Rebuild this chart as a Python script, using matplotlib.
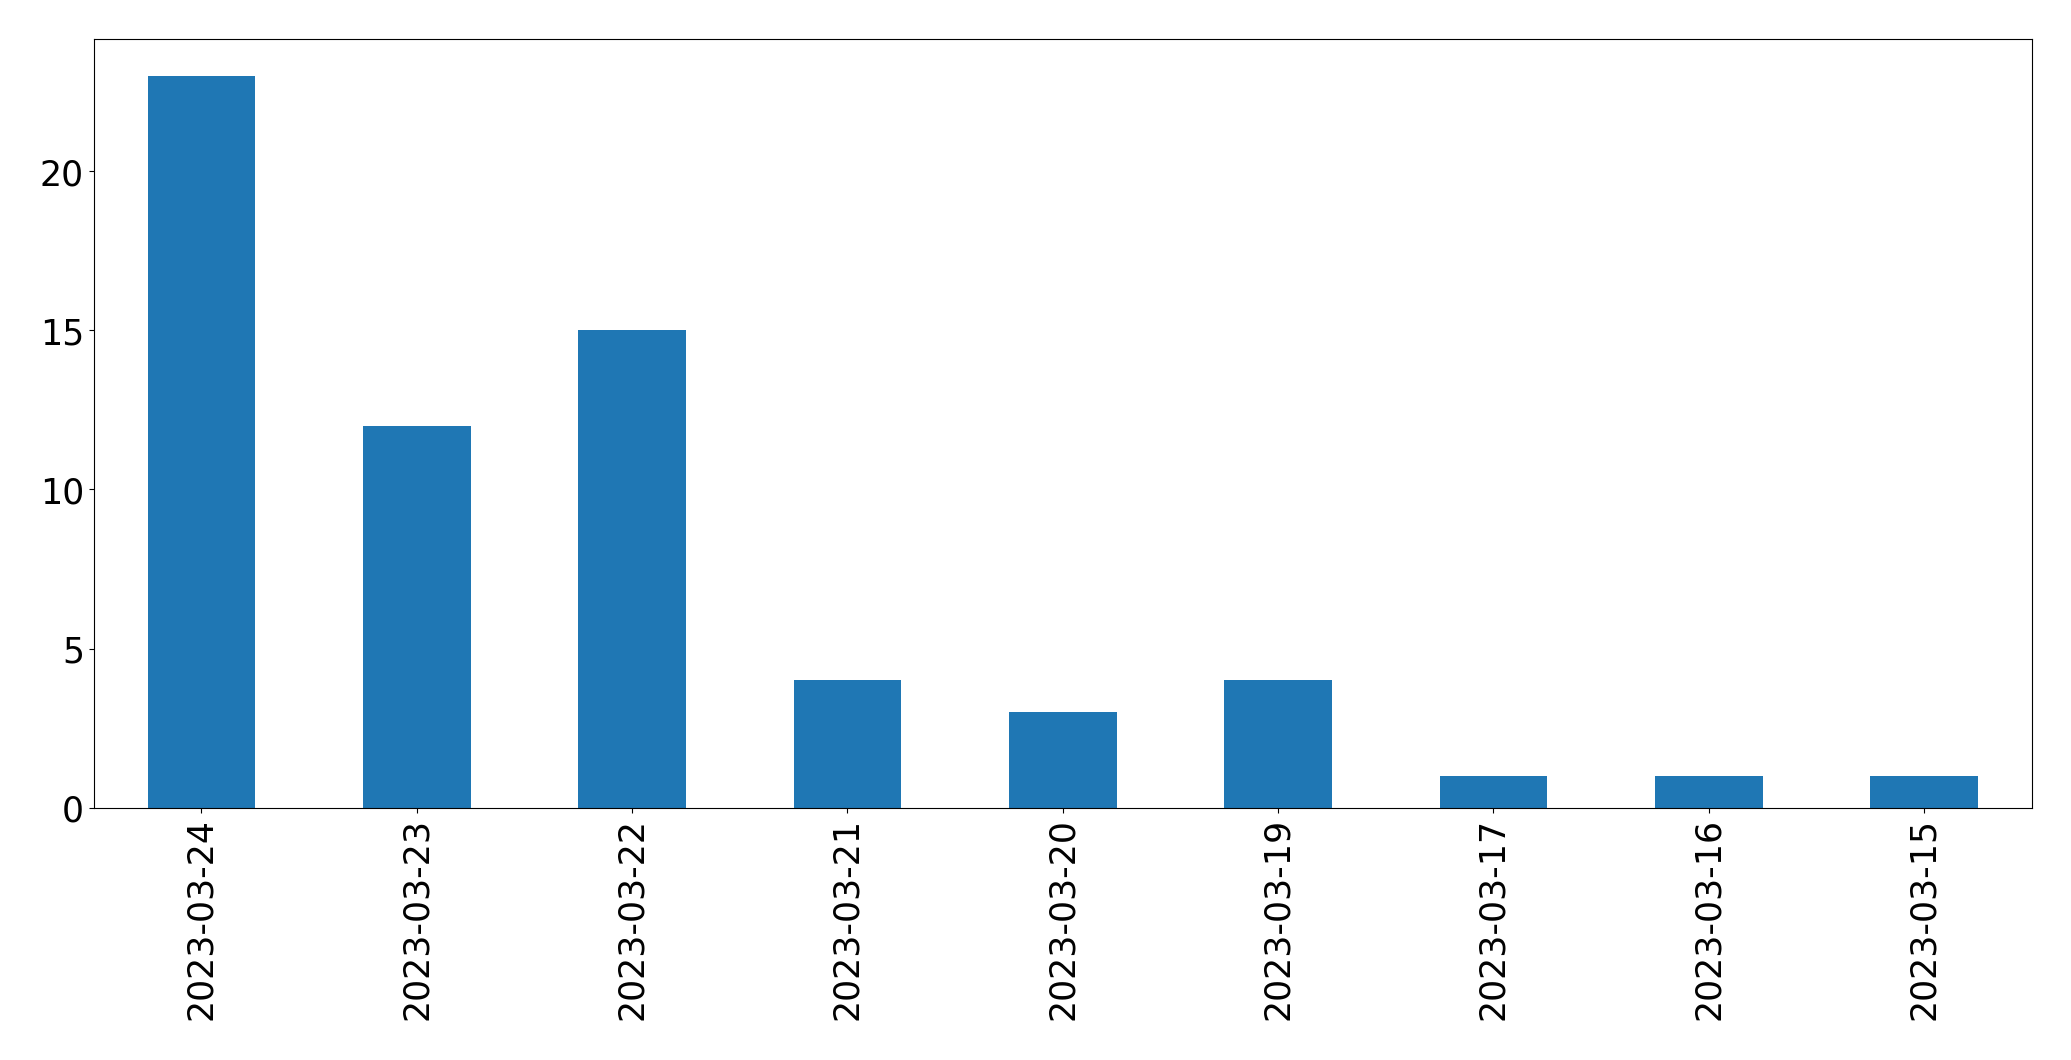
import matplotlib
matplotlib.use("Agg")
import matplotlib.pyplot as plt

dates = ["2023-03-24", "2023-03-23", "2023-03-22", "2023-03-21", "2023-03-20",
         "2023-03-19", "2023-03-17", "2023-03-16", "2023-03-15"]
counts = [23, 12, 15, 4, 3, 4, 1, 1, 1]

fig = plt.figure(figsize=(20.71, 10.605), dpi=100)
ax = fig.add_axes([0.0453, 0.238, 0.9357, 0.7246])
x = list(range(len(dates)))
ax.bar(x, counts, width=0.5, color="#1f77b4")
ax.set_xticks(x)
ax.set_xticklabels(dates, rotation=90)
ax.set_xlim(-0.5, len(dates) - 0.5)
ax.tick_params(labelsize=25)
fig.savefig("out.png", dpi=100)
